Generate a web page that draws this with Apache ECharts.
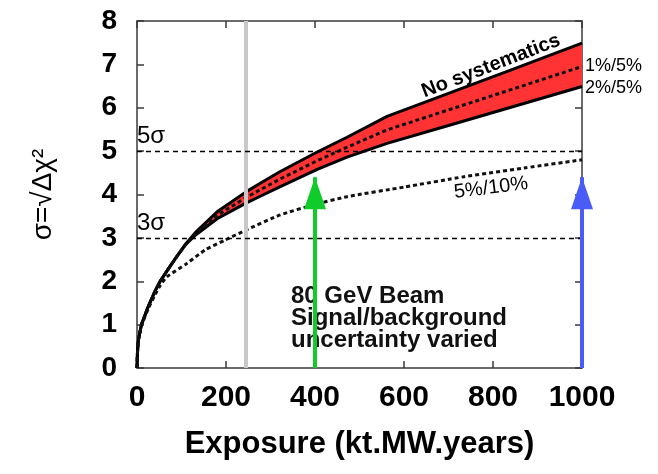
<!DOCTYPE html>
<html>
<head>
<meta charset="utf-8">
<script src="https://cdn.jsdelivr.net/npm/echarts@6/dist/echarts.min.js"></script>
<style>
html, body { margin: 0; padding: 0; background: #fff; }
#chart { width: 658px; height: 474px; }
</style>
</head>
<body>
<div id="chart"></div>
<script>
var FONT = '"Liberation Sans", Arial, Helvetica, sans-serif';

// exposure (kt.MW.years) where the band edges were read
var bandX    = [0, 1, 3, 10, 25, 40, 52, 70, 89, 108, 131, 180, 245, 277, 322, 405, 472, 562, 700, 850, 1000];
// no systematics (top edge of the red band)
var noSyst   = [0, 0.35, 0.64, 1.00, 1.41, 1.76, 2.00, 2.28, 2.57, 2.84, 3.12, 3.60, 4.06, 4.26, 4.53, 4.98, 5.32, 5.80, 6.33, 6.91, 7.49];
// 2%/5% (bottom edge of the band)
var syst2_5  = [0, 0.35, 0.64, 1.00, 1.41, 1.76, 2.00, 2.28, 2.56, 2.83, 3.06, 3.44, 3.80, 3.96, 4.18, 4.58, 4.86, 5.18, 5.59, 6.04, 6.49];
// 1%/5% (dotted, inside the band)
var syst1_5  = [0, 0.35, 0.64, 1.00, 1.41, 1.76, 2.00, 2.28, 2.56, 2.83, 3.09, 3.52, 3.93, 4.11, 4.36, 4.78, 5.09, 5.49, 5.95, 6.45, 6.95];
// 5%/10% (dotted, lower curve)
var lowX     = [0, 1, 3, 10, 25, 40, 52, 67, 112, 153, 198, 245, 322, 397, 472, 600, 735, 870, 1000];
var syst5_10 = [0, 0.34, 0.62, 0.97, 1.36, 1.68, 1.90, 2.10, 2.41, 2.72, 2.95, 3.18, 3.53, 3.76, 3.95, 4.17, 4.41, 4.61, 4.80];

var sigmaLevels = [5, 3];
var sigmaNames  = ['5σ', '3σ'];
var beamMark    = 245;
var arrowX      = [400, 1000];
var arrowTop    = [4.4, 4.4];
var arrowColor  = ['#10cc2a', '#4a5cf5'];

function pairs(xs, ys) {
	return xs.map(function (x, i) { return [x, ys[i]]; });
}

var chart = echarts.init(document.getElementById('chart'));

var axisLineStyle = {color: '#3a3a3a', width: 1.5};
var dotted = {color: '#111', width: 3, type: [4, 3]};

var option = {
	animation: false,
	grid: {left: 137, right: 76, top: 21, bottom: 106, containLabel: false},
	xAxis: [
		{
			type: 'value', min: 0, max: 1000, interval: 200,
			axisLine: {show: true, onZero: false, lineStyle: axisLineStyle},
			axisTick: {show: true, inside: true, length: 7, lineStyle: axisLineStyle},
			axisLabel: {fontFamily: FONT, fontSize: 30, fontWeight: 'bold', color: '#000', margin: 15,
				formatter: function (v) { return String(v); }},
			splitLine: {show: false},
			name: 'Exposure (kt.MW.years)',
			nameLocation: 'middle',
			nameGap: 61,
			nameTextStyle: {fontFamily: FONT, fontSize: 31, fontWeight: 'bold', color: '#000'}
		},
		{
			type: 'value', min: 0, max: 1000, interval: 200, position: 'top',
			axisLine: {show: true, onZero: false, lineStyle: axisLineStyle},
			axisTick: {show: true, inside: true, length: 7, lineStyle: axisLineStyle},
			axisLabel: {show: false},
			splitLine: {show: false}
		}
	],
	yAxis: [
		{
			type: 'value', min: 0, max: 8, interval: 1,
			axisLine: {show: true, onZero: false, lineStyle: axisLineStyle},
			axisTick: {show: true, inside: true, length: 7, lineStyle: axisLineStyle},
			axisLabel: {fontFamily: FONT, fontSize: 28, fontWeight: 'bold', color: '#000', margin: 20},
			splitLine: {show: false},
			name: 'σ=√Δχ²',
			nameLocation: 'middle',
			nameRotate: 90,
			nameGap: 80,
			nameTextStyle: {fontFamily: FONT, fontSize: 28, color: '#000'}
		},
		{
			type: 'value', min: 0, max: 8, interval: 1, position: 'right',
			axisLine: {show: true, onZero: false, lineStyle: axisLineStyle},
			axisTick: {show: true, inside: true, length: 7, lineStyle: axisLineStyle},
			axisLabel: {show: false},
			splitLine: {show: false}
		}
	],
	graphic: [
		{
			type: 'text', x: 491, y: 66, rotation: 21 * Math.PI / 180, z: 10,
			style: {text: 'No systematics', fontFamily: FONT, fontSize: 20, fontWeight: 'bold',
				fill: '#000', align: 'center', verticalAlign: 'middle'}
		},
		{
			type: 'text', x: 585, y: 66, z: 10,
			style: {text: '1%/5%', fontFamily: FONT, fontSize: 18, fill: '#000', align: 'left', verticalAlign: 'middle'}
		},
		{
			type: 'text', x: 585, y: 88, z: 10,
			style: {text: '2%/5%', fontFamily: FONT, fontSize: 18, fill: '#000', align: 'left', verticalAlign: 'middle'}
		},
		{
			type: 'text', x: 491, y: 188, rotation: 7 * Math.PI / 180, z: 10,
			style: {text: '5%/10%', fontFamily: FONT, fontSize: 20, fill: '#000', align: 'center', verticalAlign: 'middle'}
		},
		{
			type: 'text', x: 291, y: 318, z: 1,
			style: {text: '80 GeV Beam\nSignal/background\nuncertainty varied', fontFamily: FONT,
				fontSize: 24, fontWeight: 'bold', lineHeight: 22, fill: '#111', align: 'left', verticalAlign: 'middle'}
		}
	],
	series: [
		{
			// grey vertical marker
			type: 'line', data: [], z: 1, silent: true,
			markLine: {
				symbol: ['none', 'none'], silent: true, animation: false,
				label: {show: false},
				lineStyle: {color: '#c8c8c8', width: 4, type: 'solid'},
				data: [{xAxis: beamMark}]
			}
		},
		{
			type: 'custom', z: 2, silent: true,
			data: [[0, 0]],
			renderItem: function (params, api) {
				var pts = [];
				bandX.forEach(function (x, i) { pts.push(api.coord([x, noSyst[i]])); });
				for (var i = bandX.length - 1; i >= 0; i--) {
					pts.push(api.coord([bandX[i], syst2_5[i]]));
				}
				return {type: 'polygon', shape: {points: pts}, style: {fill: '#ff3333'}};
			}
		},
		{
			type: 'line', z: 3, data: pairs(bandX, noSyst), showSymbol: false,
			lineStyle: {color: '#000', width: 3}
		},
		{
			type: 'line', z: 3, data: pairs(bandX, syst2_5), showSymbol: false,
			lineStyle: {color: '#000', width: 3}
		},
		{
			type: 'line', z: 3, data: pairs(bandX, syst1_5), showSymbol: false,
			lineStyle: dotted
		},
		{
			type: 'line', z: 3, data: pairs(lowX, syst5_10), showSymbol: false, smooth: 0.2,
			lineStyle: dotted
		},
		{
			// 3 sigma / 5 sigma reference lines
			type: 'line', data: [], z: 4, silent: true,
			markLine: {
				symbol: ['none', 'none'], silent: true, animation: false,
				lineStyle: {color: '#000', width: 1.3, type: [5, 4]},
				label: {show: true, position: 'insideStartTop', distance: [0, 3], fontFamily: FONT, fontSize: 24, color: '#000',
					formatter: function (p) { return p.name; }},
				data: sigmaLevels.map(function (v, i) { return {yAxis: v, name: sigmaNames[i]}; })
			}
		},
		{
			type: 'line', data: [], z: 6, silent: true,
			markLine: {
				symbol: ['none', 'triangle'], symbolSize: [22, 32], symbolOffset: [[0, 0], [0, 16]],
				silent: true, animation: false,
				label: {show: false},
				data: arrowX.map(function (x, i) {
					return [
						{coord: [x, 0], lineStyle: {color: arrowColor[i], width: 4, type: 'solid'}, itemStyle: {color: arrowColor[i]}},
						{coord: [x, arrowTop[i]]}
					];
				})
			}
		}
	]
};

chart.setOption(option);
window.addEventListener('resize', function () {
	chart.resize();
});
</script>
</body>
</html>
